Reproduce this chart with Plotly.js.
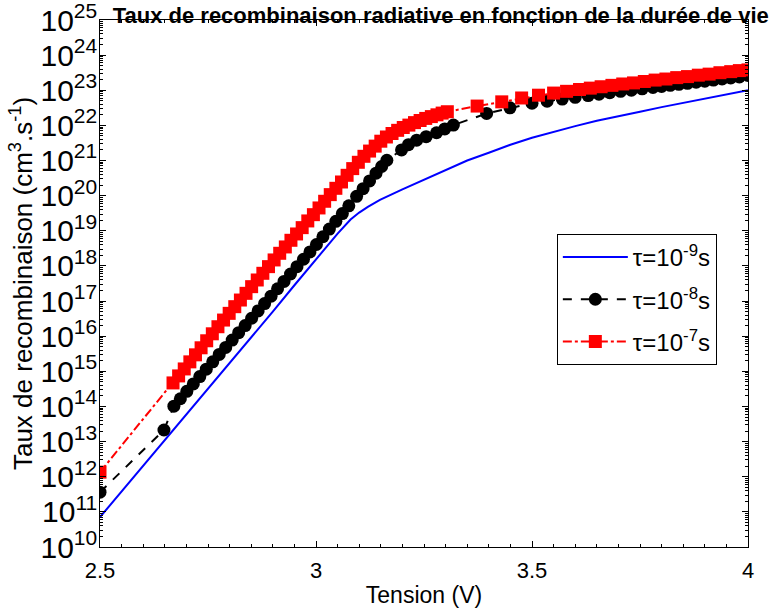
<!DOCTYPE html>
<html>
<head>
<meta charset="utf-8">
<script src="https://cdn.plot.ly/plotly-3.0.1.min.js"></script>
<style>html,body{margin:0;padding:0;background:#fff;}#chart{width:776px;height:612px;}</style>
</head>
<body>
<div id="chart"></div>
<script>
// Tension (V) and radiative recombination rate (cm^-3.s^-1)
const blueX = [2.50,2.55,2.60,2.65,2.70,2.75,2.80,2.85,2.90,2.95,3.00,3.05,3.08,3.10,3.12,3.148,3.20,3.25,3.30,3.35,3.40,3.45,3.50,3.55,3.60,3.65,3.70,3.75,3.80,3.85,3.90,3.95,4.00];
const blueY = [7.08e10,3.80e11,2.00e12,1.05e13,5.62e13,3.02e14,1.66e15,8.91e15,5.01e16,2.82e17,1.51e18,8.32e18,2.09e19,3.31e19,4.79e19,7.59e19,1.51e20,2.88e20,5.50e20,1.00e21,1.66e21,2.82e21,4.47e21,6.61e21,9.55e21,1.35e22,1.86e22,2.45e22,3.31e22,4.37e22,5.75e22,7.59e22,1.00e23];

const blackX = [2.50,2.648,2.671,2.686,2.701,2.716,2.731,2.746,2.761,2.776,2.791,2.806,2.821,2.836,2.851,2.866,2.881,2.896,2.911,2.926,2.941,2.956,2.971,2.986,3.001,3.016,3.031,3.046,3.061,3.076,3.094,3.109,3.124,3.139,3.152,3.164,3.198,3.214,3.233,3.255,3.279,3.298,3.318,3.395,3.449,3.500,3.535,3.570,3.600,3.630,3.655,3.680,3.705,3.730,3.755,3.780,3.800,3.820,3.840,3.860,3.880,3.900,3.920,3.940,3.960,3.980,4.000];
const blackY = [3.63e11,2.14e13,1.02e14,1.66e14,2.69e14,4.37e14,7.08e14,1.15e15,1.86e15,3.02e15,4.79e15,7.76e15,1.26e16,2.00e16,3.24e16,5.25e16,8.51e16,1.38e17,2.24e17,3.63e17,5.89e17,9.55e17,1.55e18,2.51e18,4.07e18,6.76e18,1.12e19,1.86e19,3.09e19,5.13e19,9.55e19,1.58e20,2.63e20,4.37e20,6.76e20,1.02e21,2.00e21,2.82e21,3.80e21,4.79e21,6.17e21,7.94e21,1.02e22,2.19e22,3.16e22,4.27e22,4.90e22,5.62e22,6.31e22,7.08e22,7.76e22,8.51e22,9.33e22,1.00e23,1.10e23,1.20e23,1.29e23,1.38e23,1.48e23,1.58e23,1.70e23,1.82e23,1.95e23,2.09e23,2.24e23,2.40e23,2.63e23];

const redX = [2.50,2.669,2.682,2.695,2.708,2.721,2.734,2.747,2.760,2.773,2.786,2.799,2.812,2.825,2.838,2.851,2.864,2.877,2.890,2.903,2.916,2.929,2.942,2.955,2.968,2.981,2.994,3.007,3.020,3.033,3.046,3.059,3.072,3.085,3.098,3.111,3.124,3.137,3.150,3.163,3.176,3.189,3.202,3.215,3.228,3.241,3.254,3.267,3.280,3.292,3.304,3.373,3.430,3.476,3.515,3.550,3.580,3.610,3.635,3.660,3.685,3.710,3.735,3.760,3.785,3.810,3.835,3.860,3.885,3.910,3.935,3.960,3.980,4.000];
const redY = [1.35e12,4.68e14,7.41e14,1.17e15,1.86e15,2.95e15,4.68e15,7.41e15,1.17e16,1.86e16,2.88e16,4.47e16,6.92e16,1.07e17,1.66e17,2.57e17,3.98e17,6.17e17,9.55e17,1.48e18,2.29e18,3.47e18,5.37e18,8.13e18,1.23e19,1.91e19,2.88e19,4.47e19,6.92e19,1.07e20,1.62e20,2.45e20,3.80e20,5.89e20,8.91e20,1.32e21,1.86e21,2.57e21,3.55e21,4.68e21,5.89e21,7.24e21,8.71e21,1.02e22,1.20e22,1.38e22,1.58e22,1.78e22,2.00e22,2.24e22,2.45e22,3.55e22,4.68e22,6.03e22,7.24e22,8.32e22,9.33e22,1.05e23,1.15e23,1.26e23,1.38e23,1.51e23,1.62e23,1.78e23,1.95e23,2.09e23,2.29e23,2.45e23,2.69e23,2.88e23,3.16e23,3.39e23,3.63e23,3.80e23];

const seriesNames = ['τ=10<sup>-9</sup>s','τ=10<sup>-8</sup>s','τ=10<sup>-7</sup>s'];
const xTickVals = [2.5,3,3.5,4];
const xTickText = ['2.5','3','3.5','4'];

const FONT = 'Liberation Sans, Arial, Helvetica, sans-serif';

const traces = [
  {x: blueX, y: blueY, name: seriesNames[0], mode: 'lines', legendgroup: 'a',
   line: {color: 'rgb(0,0,255)', width: 2}},
  {x: blackX, y: blackY, name: seriesNames[1], mode: 'lines+markers', legendgroup: 'b',
   line: {color: 'black', width: 2, dash: 'dash'},
   marker: {symbol: 'circle', size: 13, color: 'black'}},
  {x: redX, y: redY, name: seriesNames[2], mode: 'lines+markers', legendgroup: 'c',
   line: {color: 'rgb(255,0,0)', width: 2, dash: 'dashdot'},
   marker: {symbol: 'square', size: 13, color: 'rgb(255,0,0)'}}
];

const layout = {
  width: 776, height: 612,
  margin: {l: 100, r: 28, t: 20, b: 65},
  paper_bgcolor: 'white', plot_bgcolor: 'white',
  font: {family: FONT, color: 'black', size: 20},
  title: {text: '<b>Taux de recombinaison radiative en fonction de la durée de vie</b>',
          font: {family: FONT, size: 22, color: 'black'},
          x: 0.568, xanchor: 'center', xref: 'container', y: 0.975, yanchor: 'middle', yref: 'container'},
  showlegend: true,
  legend: {x: 0.705, y: 0.594, xanchor: 'left', yanchor: 'top',
           bgcolor: 'white', bordercolor: 'black', borderwidth: 1,
           font: {family: FONT, size: 24, color: 'black'},
           traceorder: 'grouped', tracegroupgap: 8, itemwidth: 65},
  xaxis: {
    range: [2.5, 4], type: 'linear',
    tickvals: xTickVals, ticktext: xTickText,
    ticks: 'inside', ticklen: 6, tickcolor: 'black', tickwidth: 1,
    minor: {dtick: 0.05, ticks: 'inside', ticklen: 3, tickcolor: 'black', showgrid: false},
    showline: true, linecolor: 'black', linewidth: 1, mirror: 'allticks',
    showgrid: false, zeroline: false, ticklabelstandoff: 4,
    tickfont: {family: FONT, size: 22},
    title: {text: 'Tension (V)', font: {family: FONT, size: 23}, standoff: 4}
  },
  yaxis: {
    type: 'log', range: [10, 25], dtick: 1, exponentformat: 'power',
    ticks: 'inside', ticklen: 6, tickcolor: 'black', tickwidth: 1,
    minor: {dtick: 'D1', ticks: 'inside', ticklen: 3, tickcolor: 'black', showgrid: false},
    showline: true, linecolor: 'black', linewidth: 1, mirror: 'allticks',
    showgrid: false, zeroline: false, ticklabelstandoff: -3, ticklabeloverflow: 'allow',
    tickfont: {family: FONT, size: 24},
    title: {text: 'Taux de recombinaison (cm<sup>3</sup>.s<sup>-1</sup>)', font: {family: FONT, size: 26}, standoff: 0}
  }
};

Plotly.newPlot('chart', traces, layout, {staticPlot: true, displayModeBar: false});
</script>
</body>
</html>
